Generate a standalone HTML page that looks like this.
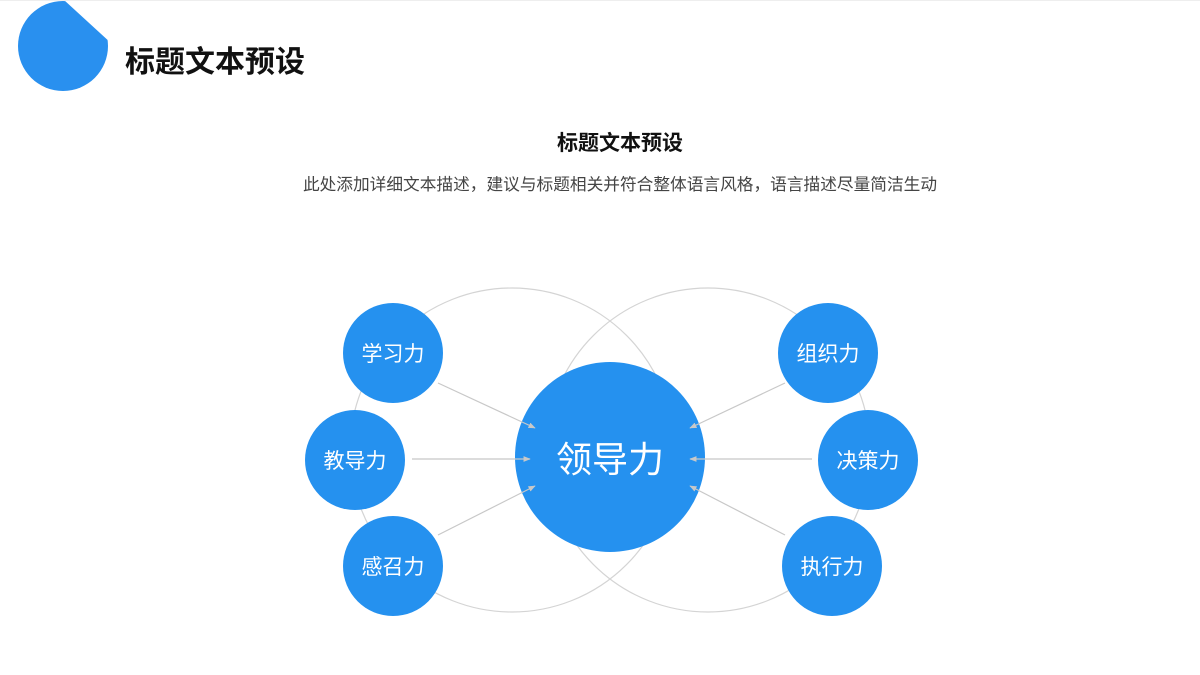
<!DOCTYPE html>
<html><head><meta charset="utf-8"><style>
body{margin:0;width:1200px;height:675px;background:#fff;overflow:hidden;font-family:"Liberation Sans","Noto Sans CJK SC",sans-serif;}
</style></head><body>
<svg width="1200" height="675" viewBox="0 0 1200 675" xmlns="http://www.w3.org/2000/svg" style="position:absolute;left:0;top:0">
<defs>
<clipPath id="cp"><polygon points="0,0 64,0 112,44 112,100 0,100"/></clipPath>
<marker id="ar" viewBox="0 0 10 10" refX="9" refY="5" markerWidth="6" markerHeight="6" orient="auto"><path d="M0,1 L10,5 L0,9 z" fill="#c8c8c8"/></marker>
</defs>
<line x1="0" y1="0.5" x2="1200" y2="0.5" stroke="#eee"/>
<circle cx="63" cy="46" r="45" fill="#2990ef" clip-path="url(#cp)"/>
<text x="125" y="72" font-size="30" font-weight="bold" fill="#111">标题文本预设</text>
<text x="620" y="150" font-size="21" font-weight="bold" fill="#111" text-anchor="middle">标题文本预设</text>
<text x="620" y="190" font-size="16.7" fill="#444" text-anchor="middle">此处添加详细文本描述，建议与标题相关并符合整体语言风格，语言描述尽量简洁生动</text>
<circle cx="512" cy="450" r="162" fill="none" stroke="#d4d4d4" stroke-width="1.2"/>
<circle cx="708" cy="450" r="162" fill="none" stroke="#d4d4d4" stroke-width="1.2"/>
<g fill="#2591ef">
<circle cx="610" cy="457" r="95"/>
<circle cx="393" cy="353" r="50"/>
<circle cx="355" cy="460" r="50"/>
<circle cx="393" cy="566" r="50"/>
<circle cx="828" cy="353" r="50"/>
<circle cx="868" cy="460" r="50"/>
<circle cx="832" cy="566" r="50"/>
</g>
<g stroke="#c8c8c8" stroke-width="1.2" marker-end="url(#ar)">
<line x1="438" y1="383" x2="535" y2="428"/>
<line x1="412" y1="459" x2="530" y2="459"/>
<line x1="438" y1="535" x2="535" y2="486"/>
<line x1="785" y1="383" x2="690" y2="428"/>
<line x1="812" y1="459" x2="690" y2="459"/>
<line x1="785" y1="535" x2="690" y2="486"/>
</g>
<g fill="#fff" text-anchor="middle" font-size="21">
<text x="610" y="472" font-size="36">领导力</text>
<text x="393" y="361">学习力</text>
<text x="355" y="468">教导力</text>
<text x="393" y="574">感召力</text>
<text x="828" y="361">组织力</text>
<text x="868" y="468">决策力</text>
<text x="832" y="574">执行力</text>
</g>
</svg>
</body></html>
